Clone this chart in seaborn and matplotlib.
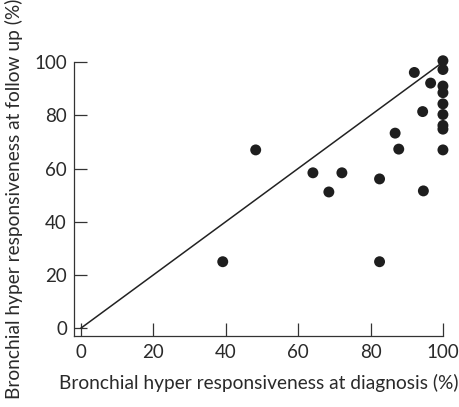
import matplotlib
matplotlib.use("Agg")
import matplotlib.pyplot as plt
import seaborn as sns
import pandas as pd

diagnosis = [39.2, 48.3, 64.1, 68.5, 72.1, 82.5, 82.5, 86.8, 87.8, 92.1, 94.4, 94.6, 96.6,
             100, 100, 100, 100, 100, 100, 100, 100, 100]
follow_up = [25.0, 67.0, 58.4, 51.2, 58.4, 56.1, 25.0, 73.3, 67.3, 96.1, 81.4, 51.6, 92.1,
             100.5, 97.2, 91.0, 88.5, 84.3, 80.3, 76.2, 74.8, 67.0]
ticks = [0, 20, 40, 60, 80, 100]

sns.set_theme(style="ticks")
plt.rcParams['font.family'] = ['Lato', 'DejaVu Sans']

df = pd.DataFrame({"diag": diagnosis, "fu": follow_up})

fig = plt.figure(figsize=(4.59, 4.07), dpi=100)
ax = fig.add_axes([0.161, 0.1745, 0.804, 0.673])
ax.plot([0, 100], [0, 100], color="#222222", lw=1.1, zorder=1)
sns.scatterplot(data=df, x="diag", y="fu", ax=ax, color="#1e1e1e", s=62,
                edgecolor="none", zorder=2, clip_on=False)
ax.set_xlim(-1.9, 100)
ax.set_ylim(-2.9, 100)
ax.set_xticks(ticks)
ax.set_yticks(ticks)
ax.tick_params(direction="in", length=9.4, width=0.9, color="#333333",
               labelsize=13.5, labelcolor="#2a2a2a", pad=5)
ax.tick_params(axis="x", pad=6)
for s in ["top", "right"]:
    ax.spines[s].set_visible(False)
for s in ["left", "bottom"]:
    ax.spines[s].set_color("#333333")
    ax.spines[s].set_linewidth(0.9)
ax.set_xlabel("Bronchial hyper responsiveness at diagnosis (%)", fontsize=13.8,
              color="#2a2a2a", labelpad=9)
ax.set_ylabel("Bronchial hyper responsiveness at follow up (%)", fontsize=13.8,
              color="#2a2a2a", labelpad=8)
fig.savefig("out.png", dpi=100)
